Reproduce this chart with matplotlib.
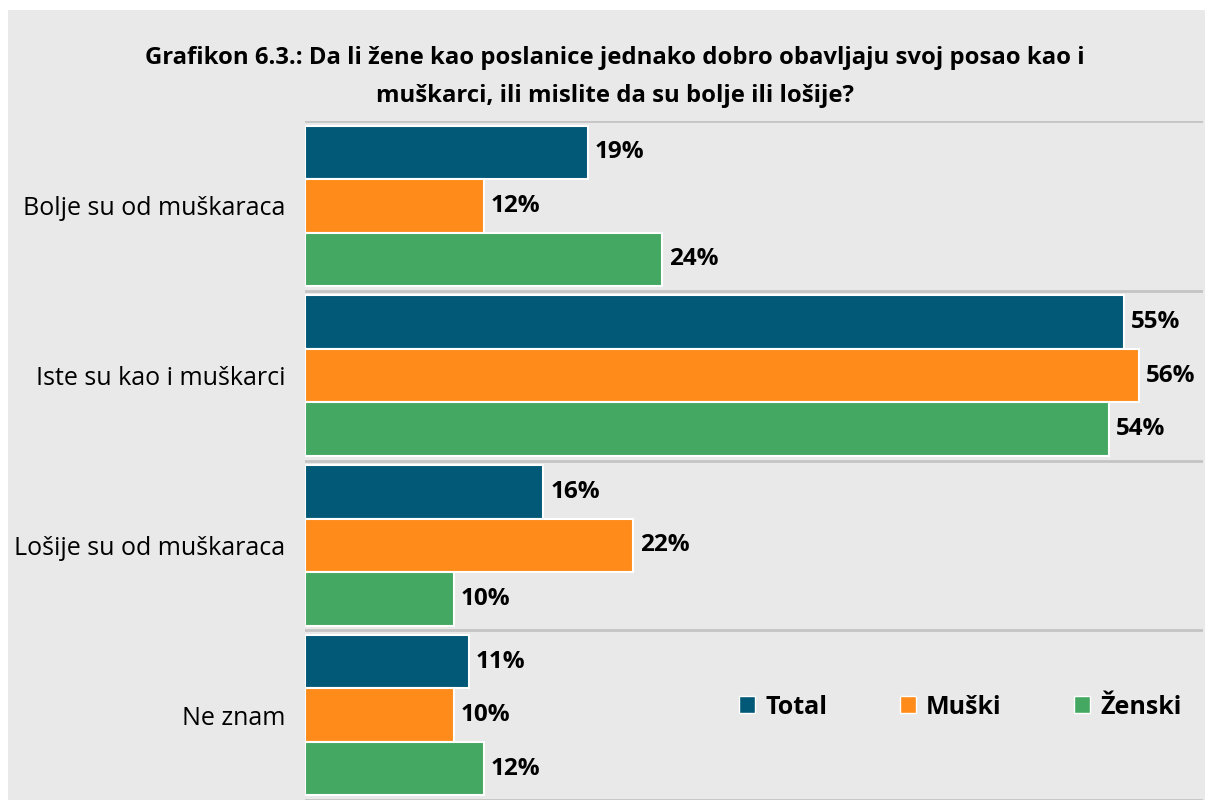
import matplotlib.pyplot as plt
from matplotlib.patches import Rectangle, Patch
import numpy as np

plt.rcParams['font.family'] = ['Open Sans', 'DejaVu Sans']

# podaci
kategorije = ["Bolje su od muškaraca", "Iste su kao i muškarci",
              "Lošije su od muškaraca", "Ne znam"]
serije = ["Total", "Muški", "Ženski"]
total = [19, 55, 16, 11]
muski = [12, 56, 22, 10]
zenski = [24, 54, 10, 12]
vrijednosti = [total, muski, zenski]
boje = ["#015877", "#FF8C1A", "#45A862"]

naslov = ("Grafikon 6.3.: Da li žene kao poslanice jednako dobro obavljaju svoj posao kao i\n"
          "muškarci, ili mislite da su bolje ili lošije?")

fig = plt.figure(figsize=(12.09, 8), dpi=100, facecolor="white")
pozadina = Rectangle((8 / 1209, 0), 1197 / 1209, 790 / 800,
                     transform=fig.transFigure, facecolor="#E9E9E9",
                     edgecolor="none", zorder=-10)
fig.patches.append(pozadina)

ax = fig.add_axes([305 / 1209, 0, 898 / 1209, 679 / 800])
ax.set_facecolor("none")
ax.set_zorder(1)

y = np.arange(len(kategorije))
h = 0.315
for i, (vals, boja, ime) in enumerate(zip(vrijednosti, boje, serije)):
    pos = y + (i - 1) * h
    ax.barh(pos, vals, height=h, color=boja, edgecolor="white", linewidth=1.5,
            label=ime, zorder=3)
    for p, v in zip(pos, vals):
        ax.annotate(f"{v}%", (v, p), xytext=(5, 0), textcoords="offset points",
                    va="center", ha="left", fontsize=17.5, fontweight="bold")

for b in np.arange(-0.5, len(kategorije), 1):
    ax.axhline(b, color="#C4C4C4", lw=2, zorder=1)

ax.set_xlim(0, 60.3)
ax.set_ylim(len(kategorije) - 0.5, -0.5)
ax.set_yticks(y)
ax.set_yticklabels(kategorije, fontsize=18)
ax.tick_params(axis="y", length=0, pad=14)
ax.set_xticks([])
for s in ax.spines.values():
    s.set_visible(False)

fig.text(615 / 1209, 1 - 77 / 800, naslov, ha="center", va="center",
         fontsize=17.2, fontweight="bold", linespacing=1.75)

handles = [Patch(facecolor=c, edgecolor="white", linewidth=1) for c in boje]
leg = ax.legend(handles, serije, ncol=3, loc="center",
                bbox_to_anchor=(960 / 1209, 1 - 707 / 800), bbox_transform=fig.transFigure,
                frameon=False, handlelength=0.65, handleheight=0.65,
                handletextpad=0.4, columnspacing=2.9,
                prop={"size": 18, "weight": "bold"})

fig.savefig("out.png", dpi=100, facecolor="white")
